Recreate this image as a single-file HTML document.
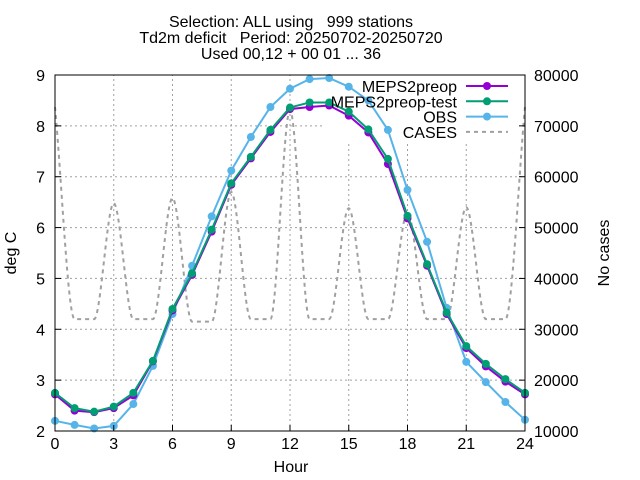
<!DOCTYPE html>
<html><head><meta charset="utf-8"><style>
html,body{margin:0;padding:0;background:#fff}
svg{display:block;font-family:"Liberation Sans",sans-serif}
</style></head><body>
<svg id="chart" width="640" height="480" viewBox="0 0 640 480">
<g font-size="16" text-anchor="middle" fill="#000">
<text x="291" y="27" xml:space="preserve">Selection: ALL using   999 stations</text>
<text x="291" y="43" xml:space="preserve">Td2m deficit   Period: 20250702-20250720</text>
<text x="291" y="59">Used 00,12 + 00 01 ... 36</text>
</g>
<g id="grid"></g>
<g id="cases"></g>
<g id="series"></g>
<g id="axes"></g>
<g id="legend"></g>
<text x="291" y="472" font-size="16" text-anchor="middle">Hour</text>
<text transform="translate(16,253) rotate(-90)" font-size="16" text-anchor="middle">deg C</text>
<text transform="translate(609,253) rotate(-90)" font-size="16" text-anchor="middle">No cases</text>
</svg>
<script>
const hours=[0,1,2,3,4,5,6,7,8,9,10,11,12,13,14,15,16,17,18,19,20,21,22,23,24];
const meps=[2.72,2.4,2.37,2.45,2.7,3.37,4.37,5.07,5.92,6.84,7.36,7.88,8.33,8.37,8.4,8.2,7.87,7.25,6.18,5.25,4.3,3.63,3.27,2.97,2.72];
const mepsTest=[2.75,2.45,2.38,2.48,2.75,3.38,4.4,5.1,5.96,6.87,7.39,7.92,8.36,8.46,8.46,8.28,7.93,7.35,6.23,5.28,4.33,3.67,3.32,3.02,2.75];
const obs=[2.2,2.12,2.05,2.1,2.53,3.28,4.3,5.25,6.22,7.12,7.78,8.37,8.73,8.92,8.94,8.77,8.5,7.92,6.74,5.72,4.42,3.36,2.96,2.57,2.22];
const cases=[73700,32000,32000,54800,32000,32000,55800,31500,31500,57000,32000,32000,73100,32000,32000,53800,32000,32000,53000,32000,32000,54000,32000,32000,73700];
const xTicks=[0,3,6,9,12,15,18,21,24];
const yTicks=[2,3,4,5,6,7,8,9];
const y2Ticks=[10000,20000,30000,40000,50000,60000,70000,80000];

const L=55,R=525,T=75,B=431;
const X=h=>L+(h-0)/24*(R-L);
const Y=v=>B-(v-2)/7*(B-T);
const Y2=v=>B-(v-10000)/70000*(B-T);
const NS="http://www.w3.org/2000/svg";
function mk(tag,parent,attrs){const e=document.createElementNS(NS,tag);for(const k in attrs)e.setAttribute(k,attrs[k]);parent.appendChild(e);return e;}
const grid=document.getElementById('grid'),axes=document.getElementById('axes');
xTicks.forEach(t=>{
  const yEnd=(t>=15&&t<=21)?143:T;
  const g=mk('line',grid,{x1:X(t),x2:X(t),y1:B,y2:(t===0||t===24)?B:yEnd,stroke:'#a0a0a0','stroke-dasharray':'2,3','stroke-width':1});
  
  
  const tk=mk('line',axes,{x1:X(t),x2:X(t),y1:B,y2:B-6,stroke:'#000'});
  
  
  const tx=mk('text',axes,{x:X(t),y:B+18,'font-size':16,'text-anchor':'middle'});
  tx.textContent=t;
  
  
});
yTicks.forEach(t=>{
  const xEnd=(t>=8)?322:R;
  const g=mk('line',grid,{x1:L,x2:(t===9||t===2)?L:xEnd,y1:Y(t),y2:Y(t),stroke:'#a0a0a0','stroke-dasharray':'2,3','stroke-width':1});
  
  
  const tk=mk('line',axes,{x1:L,x2:L+6,y1:Y(t),y2:Y(t),stroke:'#000'});
  
  
  const tx=mk('text',axes,{x:L-10,y:Y(t)+6,'font-size':16,'text-anchor':'end'});
  tx.textContent=t;
  
  
});
y2Ticks.forEach(t=>{
  const tk=mk('line',axes,{x1:R,x2:R-6,y1:Y2(t),y2:Y2(t),stroke:'#000'});
  
  
  const tx=mk('text',axes,{x:R+9,y:Y2(t)+6,'font-size':16,'text-anchor':'start'});
  tx.textContent=t;
  
  
});
const frame=mk('rect',axes,{x:L,y:T,width:R-L,height:B-T,fill:'none',stroke:'#000','stroke-width':1});



function monoPath(xs,ys){
  const n=xs.length,d=[],m=[];
  for(let i=0;i<n-1;i++)d.push((ys[i+1]-ys[i])/(xs[i+1]-xs[i]));
  for(let i=0;i<n;i++){
    if(i===0)m.push(d[0]);else if(i===n-1)m.push(d[n-2]);
    else m.push(d[i-1]*d[i]<=0?0:(d[i-1]+d[i])/2);
  }
  for(let i=0;i<n-1;i++){if(d[i]===0){m[i]=0;m[i+1]=0;}else{const a=m[i]/d[i],b=m[i+1]/d[i],s=a*a+b*b;if(s>9){const t=3/Math.sqrt(s);m[i]=t*a*d[i];m[i+1]=t*b*d[i];}}}
  let p='M'+xs[0]+','+ys[0];
  for(let i=0;i<n-1;i++){const h=(xs[i+1]-xs[i])/3;p+=' C'+(xs[i]+h)+','+(ys[i]+m[i]*h)+' '+(xs[i+1]-h)+','+(ys[i+1]-m[i+1]*h)+' '+xs[i+1]+','+ys[i+1];}
  return p;
}
const cp=mk('path',document.getElementById('cases'),{d:monoPath(hours.map(X),cases.map(Y2)),fill:'none',stroke:'#a0a0a0','stroke-width':2,'stroke-dasharray':'4,4'});



const ser=document.getElementById('series');
function drawSeries(vals,color,name){
  const g=mk('g',ser,{});
  
  
  const ln=mk('polyline',g,{points:hours.map((h,i)=>X(h)+','+Y(vals[i])).join(' '),fill:'none',stroke:color,'stroke-width':2});
  
  
  hours.forEach((h,i)=>{
    const c=mk('circle',g,{cx:X(h),cy:Y(vals[i]),r:4,fill:color});
    
    
  });
}
drawSeries(obs,'#56b4e9','obs');
drawSeries(meps,'#9400d3','meps2preop');
drawSeries(mepsTest,'#009e73','meps2preop-test');

const leg=document.getElementById('legend');
const items=[['MEPS2preop','#9400d3',false],['MEPS2preop-test','#009e73',false],['OBS','#56b4e9',false],['CASES','#a0a0a0',true]];
items.forEach((it,i)=>{
  const y=86+i*15.3;
  const g=mk('g',leg,{});
  
  
  const tx=mk('text',g,{x:457,y:y+6,'font-size':16,'text-anchor':'end'});
  tx.textContent=it[0];
  const ln=mk('line',g,{x1:466,x2:508,y1:y,y2:y,stroke:it[1],'stroke-width':2});
  if(it[2]){ln.setAttribute('stroke-dasharray','4,4');}
  else{mk('circle',g,{cx:487,cy:y,r:4,fill:it[1]});}
});
</script>
</body></html>
